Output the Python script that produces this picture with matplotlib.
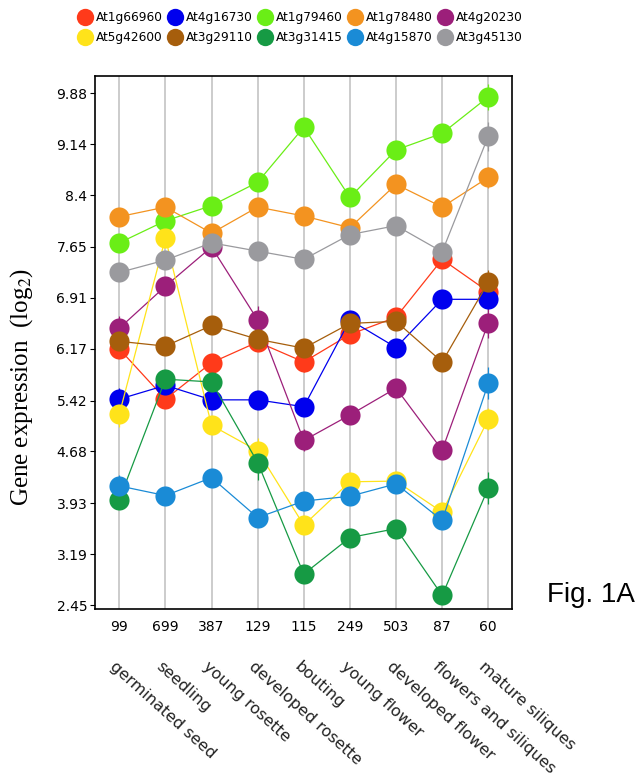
import matplotlib
matplotlib.use('Agg')
import matplotlib.pyplot as plt
from matplotlib.lines import Line2D
from matplotlib.transforms import blended_transform_factory
import numpy as np

# sample counts shown under the axis and the tissue names
counts = ['99', '699', '387', '129', '115', '249', '503', '87', '60']
tissues = ['germinated seed', 'seedling', 'young rosette', 'developed rosette',
           'bouting', 'young flower', 'developed flower', 'flowers and siliques',
           'mature siliques']

# genes in legend order (row by row)
genes = ['At1g66960', 'At4g16730', 'At1g79460', 'At1g78480', 'At4g20230',
         'At5g42600', 'At3g29110', 'At3g31415', 'At4g15870', 'At3g45130']
colors = ['#ff3a1a', '#0000ee', '#6aee16', '#f39320', '#9c1f7a',
          '#ffe31a', '#a65e0c', '#169a44', '#1a8bd6', '#9a9a9e']

at1g66960 = [6.17, 5.44, 5.97, 6.27, 5.98, 6.38, 6.63, 7.47, 7.00]
at4g16730 = [5.44, 5.64, 5.43, 5.43, 5.33, 6.59, 6.19, 6.89, 6.89]
at1g79460 = [7.71, 8.03, 8.25, 8.59, 9.39, 8.37, 9.06, 9.30, 9.83]
at1g78480 = [8.09, 8.23, 7.85, 8.23, 8.10, 7.93, 8.56, 8.23, 8.66]
at4g20230 = [6.47, 7.08, 7.65, 6.59, 4.84, 5.21, 5.60, 4.70, 6.55]
at5g42600 = [5.22, 7.78, 5.06, 4.69, 3.61, 4.24, 4.25, 3.80, 5.15]
at3g29110 = [6.28, 6.21, 6.51, 6.31, 6.18, 6.54, 6.57, 5.98, 7.14]
at3g31415 = [3.98, 5.73, 5.69, 4.52, 2.90, 3.43, 3.56, 2.59, 4.15]
at4g15870 = [4.18, 4.04, 4.30, 3.72, 3.96, 4.03, 4.21, 3.68, 5.67]
at3g45130 = [7.28, 7.46, 7.71, 7.59, 7.47, 7.83, 7.96, 7.58, 9.26]

# error bars (only those that show past the markers)
err_at1g66960 = [0, 0, 0, 0, 0.15, 0, 0, 0, 0]
err_at4g16730 = [0.16, 0, 0, 0, 0, 0, 0, 0, 0.1]
err_at1g79460 = [0, 0, 0, 0, 0, 0, 0, 0, 0.19]
err_at1g78480 = [0, 0, 0, 0, 0, 0, 0, 0, 0.15]
err_at4g20230 = [0.18, 0, 0, 0.2, 0.16, 0, 0, 0.13, 0.22]
err_at5g42600 = [0.19, 0, 0, 0.18, 0, 0, 0, 0.1, 0.16]
err_at3g29110 = [0, 0, 0, 0, 0, 0, 0, 0, 0.18]
err_at3g31415 = [0, 0, 0, 0.26, 0, 0, 0, 0, 0.23]
err_at4g15870 = [0.16, 0, 0, 0, 0, 0, 0, 0, 0.23]
err_at3g45130 = [0, 0, 0, 0, 0, 0, 0, 0, 0.21]

series = [at1g66960, at4g16730, at1g79460, at1g78480, at4g20230,
          at5g42600, at3g29110, at3g31415, at4g15870, at3g45130]
errors = [err_at1g66960, err_at4g16730, err_at1g79460, err_at1g78480, err_at4g20230,
          err_at5g42600, err_at3g29110, err_at3g31415, err_at4g15870, err_at3g45130]

yticks = [2.45, 3.19, 3.93, 4.68, 5.42, 6.17, 6.91, 7.65, 8.4, 9.14, 9.88]

plt.rcParams['mathtext.fontset'] = 'stix'

fig = plt.figure(figsize=(6.43, 7.76), dpi=100)
ax = fig.add_axes([0.1477, 0.2148, 0.649, 0.6876])

x = np.arange(len(counts))
for xi in x:
    ax.axvline(xi, color='#c8c8c8', lw=1.3, zorder=0)

for vals, err, c in zip(series, errors, colors):
    ax.errorbar(x, vals, yerr=err, fmt='-o', color=c, lw=0.9, ms=14.5, mew=0,
                elinewidth=0.9, capsize=3.5, capthick=0.9)

ax.set_xlim(-0.527, 8.52)
ax.set_ylim(2.388, 10.137)
ax.set_xticks(x)
ax.set_xticklabels(counts, fontsize=10)
ax.tick_params(axis='x', length=0, pad=8)
ax.set_yticks(yticks)
ax.set_yticklabels([str(t) for t in yticks], fontsize=10)
ax.tick_params(axis='y', length=3.5, pad=2)
for s in ax.spines.values():
    s.set_linewidth(1.2)

trans = blended_transform_factory(ax.transData, ax.transAxes)
for xi, name in zip(x, tissues):
    ax.text(xi - 0.26, -0.092, name, transform=trans, rotation=-42,
            ha='left', va='top', fontsize=11.5, color='#222222')

fig.text(22 / 643, 1 - 387 / 776, r'Gene expression  (log$_2$)', rotation=90,
         ha='center', va='center', fontsize=18, family='Liberation Serif')
fig.text(591 / 643, 1 - 595 / 776, 'Fig. 1A', ha='center', va='center',
         fontsize=20, family='Liberation Sans')

# legend reads row by row, matplotlib fills columns first
handles = [Line2D([], [], marker='o', ls='', ms=12.5, mew=0, color=c) for c in colors]
order = [0, 5, 1, 6, 2, 7, 3, 8, 4, 9]
fig.legend([handles[i] for i in order], [genes[i] for i in order], ncol=5,
           loc='upper left', bbox_to_anchor=(79 / 643, 1 - 11 / 776),
           frameon=False, fontsize=8.7, handlelength=1.0, handletextpad=0.4,
           columnspacing=0.52, labelspacing=0.62, borderpad=0, borderaxespad=0)

fig.savefig('out.png', dpi=100)
